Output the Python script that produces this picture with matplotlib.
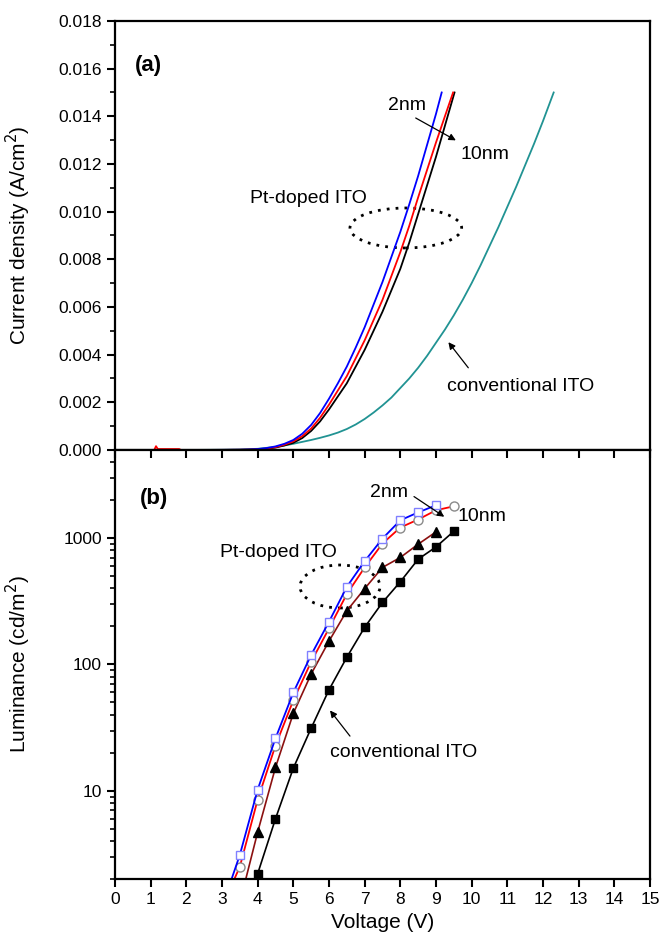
import matplotlib
matplotlib.use("Agg")
from matplotlib import pyplot, patches, ticker, lines

pyplot.rcParams['font.family'] = ['Liberation Sans', 'DejaVu Sans']

# (a) current density (mA/cm2, converted to A/cm2 below) vs voltage
v_blue = [0, 1, 2, 3, 3.5, 3.75, 4, 4.25, 4.5, 4.75, 5, 5.25, 5.5, 5.75, 6, 6.25, 6.5, 6.75,
          7, 7.25, 7.5, 7.75, 8, 8.25, 8.5, 8.75, 9, 9.16]
j_blue = [0, 0, 0, 0.005, 0.01, 0.02, 0.04, 0.08, 0.15, 0.26, 0.42, 0.68, 1.05, 1.55, 2.15,
          2.8, 3.5, 4.3, 5.15, 6.1, 7.05, 8.1, 9.15, 10.3, 11.5, 12.8, 14.1, 15.0]
v_red = [0, 1.1, 1.15, 1.2, 1.8, 1.85, 3, 3.5, 3.75, 4, 4.25, 4.5, 4.75, 5, 5.25, 5.5, 5.75,
         6, 6.25, 6.5, 6.75, 7, 7.25, 7.5, 7.75, 8, 8.25, 8.5, 8.75, 9, 9.25, 9.48]
j_red = [0, 0, 0.16, 0.04, 0.04, 0, 0.005, 0.01, 0.015, 0.03, 0.06, 0.12, 0.22, 0.36, 0.58,
         0.9, 1.35, 1.9, 2.5, 3.1, 3.85, 4.6, 5.45, 6.3, 7.3, 8.3, 9.4, 10.6, 11.75, 12.9,
         14.0, 15.0]
v_black = [0, 1, 2, 3, 3.5, 3.75, 4, 4.25, 4.5, 4.75, 5, 5.25, 5.5, 5.75, 6, 6.25, 6.5, 6.75,
           7, 7.25, 7.5, 7.75, 8, 8.25, 8.5, 8.75, 9, 9.25, 9.52]
j_black = [0, 0, 0, 0.003, 0.005, 0.01, 0.02, 0.05, 0.1, 0.19, 0.3, 0.5, 0.8, 1.2, 1.7, 2.25,
           2.8, 3.5, 4.2, 5.0, 5.8, 6.7, 7.6, 8.7, 9.9, 11.1, 12.3, 13.6, 15.0]
v_conv = [0, 1, 2, 3, 3.5, 4, 4.5, 4.75, 5, 5.25, 5.5, 5.75, 6, 6.25, 6.5, 6.75, 7, 7.25, 7.5,
          7.75, 8, 8.25, 8.5, 8.75, 9, 9.25, 9.5, 9.75, 10, 10.25, 10.5, 10.75, 11, 11.25,
          11.5, 11.75, 12, 12.3]
j_conv = [0, 0, 0, 0.01, 0.02, 0.05, 0.13, 0.19, 0.26, 0.34, 0.42, 0.51, 0.61, 0.73, 0.88, 1.07,
          1.3, 1.57, 1.87, 2.2, 2.6, 3.0, 3.45, 3.95, 4.5, 5.05, 5.65, 6.3, 7.0, 7.75, 8.55,
          9.35, 10.2, 11.05, 11.95, 12.85, 13.8, 15.0]

# (b) luminance (cd/m2) vs voltage
v_sq_open = [3, 3.5, 4, 4.5, 5, 5.5, 6, 6.5, 7, 7.5, 8, 8.5, 9]
l_sq_open = [1.2, 3.1, 10.2, 26, 60, 119, 218, 412, 658, 994, 1387, 1603, 1823]
v_circ = [3, 3.5, 4, 4.5, 5, 5.5, 6, 6.5, 7, 7.5, 8, 8.5, 9, 9.5]
l_circ = [1.2, 2.5, 8.5, 22.8, 52, 105, 193, 361, 587, 908, 1216, 1407, 1665, 1791]
v_tri = [3.5, 4, 4.5, 5, 5.5, 6, 6.5, 7, 7.5, 8, 8.5, 9]
l_tri = [1.3, 4.7, 15.3, 41, 84, 153, 266, 399, 587, 704, 897, 1122]
v_sq = [4, 4.5, 5, 5.5, 6, 6.5, 7, 7.5, 8, 8.5, 9, 9.5]
l_sq = [2.2, 6.0, 15.1, 31.3, 63, 114, 197, 310, 452, 682, 853, 1135]

x_ticks = list(range(0, 16))
teal = '#219393'


def to_amps(values):
    return [v / 1000.0 for v in values]


fig = pyplot.figure(figsize=(6.59, 9.41), dpi=100)
ax_a = fig.add_axes([0.1745, 0.5218, 0.8118, 0.4559])
ax_b = fig.add_axes([0.1745, 0.0659, 0.8118, 0.4559])

# --- panel (a)
ax_a.plot(v_conv, to_amps(j_conv), color=teal, lw=1.3)
ax_a.plot(v_black, to_amps(j_black), color='black', lw=1.3)
ax_a.plot(v_red, to_amps(j_red), color='red', lw=1.3)
ax_a.plot(v_blue, to_amps(j_blue), color='blue', lw=1.3)
ax_a.set_xlim(0, 15)
ax_a.set_ylim(0, 0.018)
ax_a.yaxis.set_major_locator(ticker.MultipleLocator(0.002))
ax_a.yaxis.set_minor_locator(ticker.MultipleLocator(0.001))
ax_a.yaxis.set_major_formatter(ticker.FormatStrFormatter('%.3f'))
ax_a.set_xticks(x_ticks)
ax_a.tick_params(axis='x', bottom=False, labelbottom=False)
ax_a.set_ylabel('Current density (A/cm$^2$)', fontsize=15)

ax_a.text(0.037, 0.897, '(a)', transform=ax_a.transAxes, fontsize=16, fontweight='bold', va='center')
ax_a.text(0.252, 0.587, 'Pt-doped ITO', transform=ax_a.transAxes, fontsize=14, va='center')
ax_a.add_patch(patches.Ellipse((0.5436, 0.5175), 0.2088, 0.0932, transform=ax_a.transAxes,
                               fill=False, ls=(0, (1, 2.2)), lw=2, color='black'))
ax_a.text(0.510, 0.804, '2nm', transform=ax_a.transAxes, fontsize=14, va='center')
ax_a.text(0.645, 0.688, '10nm', transform=ax_a.transAxes, fontsize=14, va='center')
ax_a.annotate('', xy=(0.6417, 0.7186), xytext=(0.5576, 0.777), xycoords='axes fraction',
              arrowprops=dict(arrowstyle='-|>', lw=0.9, color='black', mutation_scale=10))
ax_a.text(0.620, 0.1476, 'conventional ITO', transform=ax_a.transAxes, fontsize=14, va='center')
ax_a.annotate('', xy=(0.620, 0.2564), xytext=(0.6636, 0.1865), xycoords='axes fraction',
              arrowprops=dict(arrowstyle='-|>', lw=0.9, color='black', mutation_scale=10))

# --- panel (b)
ax_b.plot(v_sq, l_sq, color='black', lw=1.2, marker='s', ms=6, mfc='black', mec='black')
ax_b.plot(v_tri, l_tri, color='#8b1010', lw=1.2, marker='^', ms=7, mfc='black', mec='black')
ax_b.plot(v_circ, l_circ, color='red', lw=1.3, marker='o', ms=6.5, mfc='white', mec='#8a8a8a')
ax_b.plot(v_sq_open, l_sq_open, color='blue', lw=1.3, marker='s', ms=6, mfc='white', mec='#8080ff')
ax_b.set_yscale('log')
ax_b.set_xlim(0, 15)
ax_b.set_ylim(2, 5000)
ax_b.set_xticks(x_ticks)
ax_b.yaxis.set_major_locator(ticker.LogLocator(base=10))
ax_b.yaxis.set_minor_locator(ticker.LogLocator(base=10, subs=range(2, 10)))
ax_b.yaxis.set_major_formatter(ticker.FuncFormatter(lambda v, p: '%d' % v))
ax_b.yaxis.set_minor_formatter(ticker.NullFormatter())
ax_b.set_xlabel('Voltage (V)', fontsize=15)
ax_b.set_ylabel('Luminance (cd/m$^2$)', fontsize=15)

ax_b.text(0.047, 0.888, '(b)', transform=ax_b.transAxes, fontsize=16, fontweight='bold', va='center')
ax_b.text(0.196, 0.760, 'Pt-doped ITO', transform=ax_b.transAxes, fontsize=14, va='center')
ax_b.add_patch(patches.Ellipse((0.4206, 0.6818), 0.1495, 0.1002, transform=ax_b.transAxes,
                               fill=False, ls=(0, (1, 2.2)), lw=2, color='black'))
ax_b.text(0.4766, 0.900, '2nm', transform=ax_b.transAxes, fontsize=14, va='center')
ax_b.text(0.641, 0.844, '10nm', transform=ax_b.transAxes, fontsize=14, va='center')
ax_b.annotate('', xy=(0.6198, 0.8408), xytext=(0.5546, 0.895), xycoords='axes fraction',
              arrowprops=dict(arrowstyle='-|>', lw=0.9, color='black', mutation_scale=10))
ax_b.text(0.4019, 0.2937, 'conventional ITO', transform=ax_b.transAxes, fontsize=14, va='center')
ax_b.annotate('', xy=(0.3987, 0.398), xytext=(0.4424, 0.328), xycoords='axes fraction',
              arrowprops=dict(arrowstyle='-|>', lw=0.9, color='black', mutation_scale=10))

for ax in (ax_a, ax_b):
    for s in ax.spines.values():
        s.set_linewidth(1.6)
    ax.tick_params(which='major', length=6, width=1.5, labelsize=12.5)
    ax.tick_params(which='minor', length=3.5, width=1.2)
    ax.tick_params(axis='y', right=False, which='both')
    ax.tick_params(axis='x', which='minor', bottom=False, top=False)
    ax.yaxis.set_label_coords(-0.153, 0.5)

# shared boundary: ticks hang down from the top of (b)
ax_b.tick_params(axis='x', which='major', top=True, bottom=True)
for t in ax_b.xaxis.get_major_ticks():
    t.tick2line.set_marker(lines.TICKDOWN)

fig.savefig('out.png', dpi=100)
